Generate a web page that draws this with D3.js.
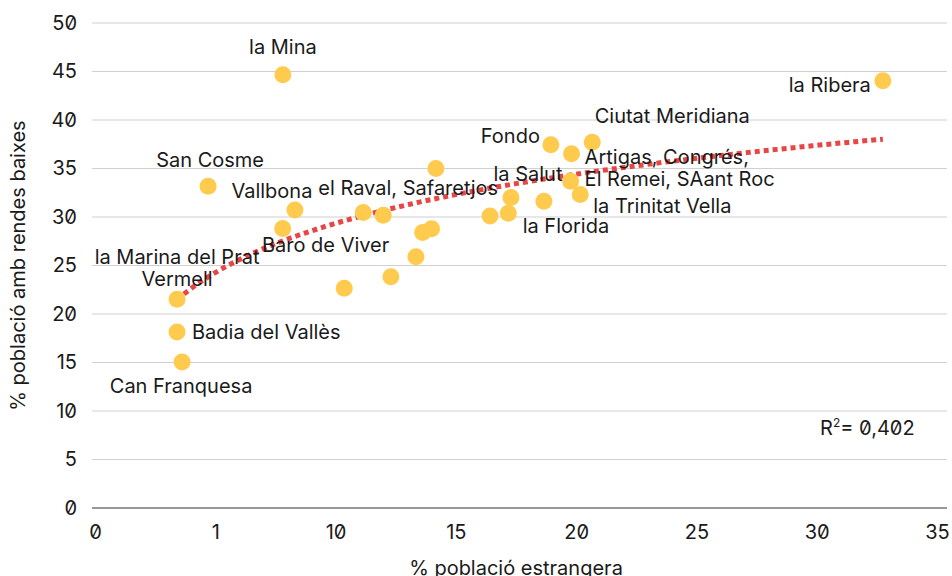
<!DOCTYPE html>
<html><head><meta charset="utf-8">
<script src="https://cdn.jsdelivr.net/npm/d3@7"></script>
<style>
body{margin:0;background:#fff;}
svg text{font-family:Inter,"Noto Sans",sans-serif;font-feature-settings:"zero" 1;fill:#1a1a1a;}
</style></head><body>
<svg id="chart" width="952" height="576"></svg>
<script>
// ---- data ----
const names = ["la Mina","la Ribera","San Cosme","Vallbona","Baro de Viver","","el Raval, Safaretjos","","","","","","la Marina del Prat|Vermell","Badia del Vallès","Can Franquesa","","Fondo","","Ciutat Meridiana","Artigas, Congrés,|El Remei, SAant Roc","la Trinitat Vella","la Florida","la Salut","",""];
const xValues = [7.81,32.75,4.70,8.31,7.80,11.15,11.98,13.62,13.99,13.34,12.30,10.36,3.41,3.41,3.62,14.17,18.95,19.81,20.67,19.77,20.17,18.66,17.29,17.18,16.42];
const yValues = [44.66,44.05,33.16,30.73,28.82,30.46,30.18,28.4,28.8,25.9,23.85,22.66,21.53,18.14,15.06,35.0,37.44,36.52,37.71,33.68,32.31,31.62,32.0,30.39,30.11];
const xTicks = [0,5,10,15,20,25,30,35];
const xTickLabels = ["0","1","10","15","20","25","30","35"];
const yTicks = [0,5,10,15,20,25,30,35,40,45,50];
const rSquaredText = "0,402";
const xTitle = "% població estrangera";
const yTitle = "% població amb rendes baixes";

// ---- layout (label offsets in px, relative to the point) ----
const labelLayout = {
  "la Mina":{dx:0,dy:-21,a:"middle"},
  "la Ribera":{dx:-12,dy:11,a:"end"},
  "San Cosme":{dx:2,dy:-19,a:"middle"},
  "Vallbona":{dx:-23,dy:-12,a:"middle"},
  "Baro de Viver":{dx:43,dy:24,a:"middle"},
  "el Raval, Safaretjos":{dx:25,dy:-20,a:"middle"},
  "la Marina del Prat|Vermell":{dx:0,dy:-35,a:"middle"},
  "Badia del Vallès":{dx:15,dy:7,a:"start"},
  "Can Franquesa":{dx:-1,dy:31,a:"middle"},
  "Fondo":{dx:-11,dy:-2,a:"end"},
  "Ciutat Meridiana":{dx:80,dy:-19,a:"middle"},
  "Artigas, Congrés,|El Remei, SAant Roc":{dx:14,dy:-17,a:"start"},
  "la Trinitat Vella":{dx:13,dy:18,a:"start"},
  "la Florida":{dx:22,dy:32,a:"middle"},
  "la Salut":{dx:17,dy:-17,a:"middle"}
};

const svg = d3.select("#chart");
const x = d3.scaleLinear().domain([0,35]).range([95,937]);
const y = d3.scaleLinear().domain([0,50]).range([508,23]);
const FS = 20;

// gridlines
svg.append("g").selectAll("line").data(yTicks.filter(d=>d>0)).join("line")
  .attr("x1",92).attr("x2",947).attr("y1",d=>y(d)).attr("y2",d=>y(d))
  .attr("stroke","#d0d0d0").attr("stroke-width",1.2);
svg.append("line").attr("x1",92).attr("x2",947).attr("y1",y(0)).attr("y2",y(0))
  .attr("stroke","#333").attr("stroke-width",1.2);

// y tick labels
const yAxis = d3.axisLeft(y).tickValues(yTicks).tickSize(0).tickPadding(0);
const gy = svg.append("g").attr("transform","translate(77,0)").call(yAxis);
gy.select(".domain").remove();
gy.selectAll("text").attr("font-size",FS).attr("font-family",null).attr("fill","#1a1a1a");

// x tick labels
const xAxis = d3.axisBottom(x).tickValues(xTicks).tickSize(0).tickPadding(0)
  .tickFormat((d,i)=>xTickLabels[i]);
const gx = svg.append("g").attr("transform","translate(0,525)").call(xAxis);
gx.select(".domain").remove();
gx.selectAll("text").attr("font-size",FS).attr("font-family",null).attr("fill","#1a1a1a");

// axis titles
svg.append("text").attr("x",(x(0)+x(35))/2).attr("y",575).attr("text-anchor","middle")
  .attr("font-size",FS).text(xTitle);
svg.append("text").attr("transform",`translate(25,${(y(0)+y(50))/2}) rotate(-90)`)
  .attr("text-anchor","middle").attr("font-size",FS).text(yTitle);

// logarithmic trend line (least squares on ln x)
const lx = xValues.map(Math.log);
const mx = d3.mean(lx), my = d3.mean(yValues);
const b = d3.sum(lx,(v,i)=>(v-mx)*(yValues[i]-my))/d3.sum(lx,v=>(v-mx)*(v-mx));
const a = my - b*mx;
const xmin = d3.min(xValues), xmax = d3.max(xValues);
const trendPts = d3.range(0,101).map(i=>{const xv = xmin+(xmax-xmin)*i/100; return [xv, a+b*Math.log(xv)];});
svg.append("path").datum(trendPts)
  .attr("d",d3.line().x(d=>x(d[0])).y(d=>y(d[1])))
  .attr("fill","none").attr("stroke","#e84545").attr("stroke-width",5)
  .attr("stroke-dasharray","5,4");

// points
const pts = xValues.map((v,i)=>({x:v,y:yValues[i],name:names[i]}));
svg.append("g").selectAll("circle").data(pts).join("circle")
  .attr("cx",d=>x(d.x)).attr("cy",d=>y(d.y)).attr("r",8.5).attr("fill","#ffcb4f");

// labels
const lab = svg.append("g").selectAll("text").data(pts.filter(d=>d.name)).join("text")
  .attr("font-size",FS)
  .attr("text-anchor",d=>labelLayout[d.name].a)
  .attr("x",d=>x(d.x)+labelLayout[d.name].dx)
  .attr("y",d=>y(d.y)+labelLayout[d.name].dy);
lab.each(function(d){
  const lines = d.name.split("|");
  const t = d3.select(this);
  lines.forEach((l,i)=>t.append("tspan").attr("x",x(d.x)+labelLayout[d.name].dx).attr("dy",i?22:0).text(l));
});

// R squared
const r = svg.append("text").attr("x",820).attr("y",435).attr("font-size",FS);
r.append("tspan").text("R");
r.append("tspan").attr("font-size",12).attr("dy",-8).text("2");
r.append("tspan").attr("dy",8).text("= "+rSquaredText);
</script></body></html>
